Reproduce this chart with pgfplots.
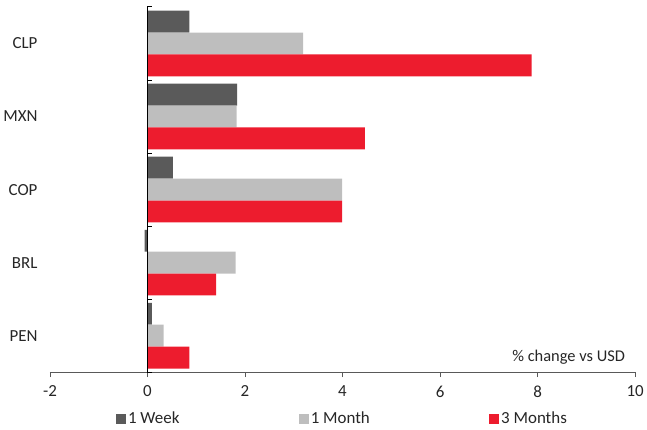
\documentclass[border=0pt]{standalone}
\usepackage{fontspec}
\setmainfont{Carlito}
\usepackage{pgfplots}
\pgfplotsset{compat=1.18}
\definecolor{wk}{HTML}{5A5A5A}
\definecolor{mo}{HTML}{BEBEBE}
\definecolor{tm}{HTML}{ED1C2E}
\definecolor{axgray}{HTML}{595959}
\definecolor{txt}{HTML}{262626}
\begin{document}
\begin{tikzpicture}
\begin{axis}[
  scale only axis,
  width=588pt, height=367pt,
  xmin=-2, xmax=10, ymin=-0.5, ymax=4.5,
  xbar, bar width=22pt,
  axis lines*=left,
  y axis line style={draw=none},
  x axis line style={axgray, line width=0.8pt},
  xtick={-2,0,...,10},
  xtick style={axgray, line width=0.8pt},
  tick align=outside,
  major tick length=5pt,
  ytick={0,1,2,3,4},
  yticklabels={PEN,BRL,COP,MXN,CLP},
  ytick style={draw=none},
  yticklabel style={xshift=-4pt},
  xticklabel style={yshift=-5pt},
  tick label style={font=\fontsize{17}{19}\selectfont, text=txt},
  /pgf/number format/assume math mode=true,
  legend style={draw=none, at={(0.5,-0.098)}, anchor=north, legend columns=3,
    font=\fontsize{17}{19}\selectfont, text=txt,
    /tikz/every even column/.append style={column sep=118pt}},
  legend image code/.code={\fill[#1] (0pt,-5pt) rectangle (10pt,5pt);},
  legend cell align=left,
]
\addplot[fill=wk, draw=none, bar shift=22pt] coordinates {(0.09,0) (-0.06,1) (0.52,2) (1.84,3) (0.86,4)};
\addplot[fill=mo, draw=none, bar shift=0pt] coordinates {(0.33,0) (1.81,1) (3.99,2) (1.83,3) (3.19,4)};
\addplot[fill=tm, draw=none, bar shift=-22pt] coordinates {(0.86,0) (1.41,1) (3.99,2) (4.46,3) (7.88,4)};
\legend{1 Week,1 Month,3 Months}
\draw[black, line width=1pt] (axis cs:0,-0.5) -- (axis cs:0,4.5);
\pgfplotsinvokeforeach{-0.5,0.5,1.5,2.5,3.5,4.5}{
  \draw[black, line width=1pt] (axis cs:0,#1) -- ([xshift=5pt]axis cs:0,#1);
}
\node[anchor=south east, font=\fontsize{16.5}{19}\selectfont, text=txt, inner sep=0pt] at (rel axis cs:0.983,0.022) {\% change vs USD};
\end{axis}
\path (current axis.north) ++(0,7pt);
\end{tikzpicture}
\end{document}
